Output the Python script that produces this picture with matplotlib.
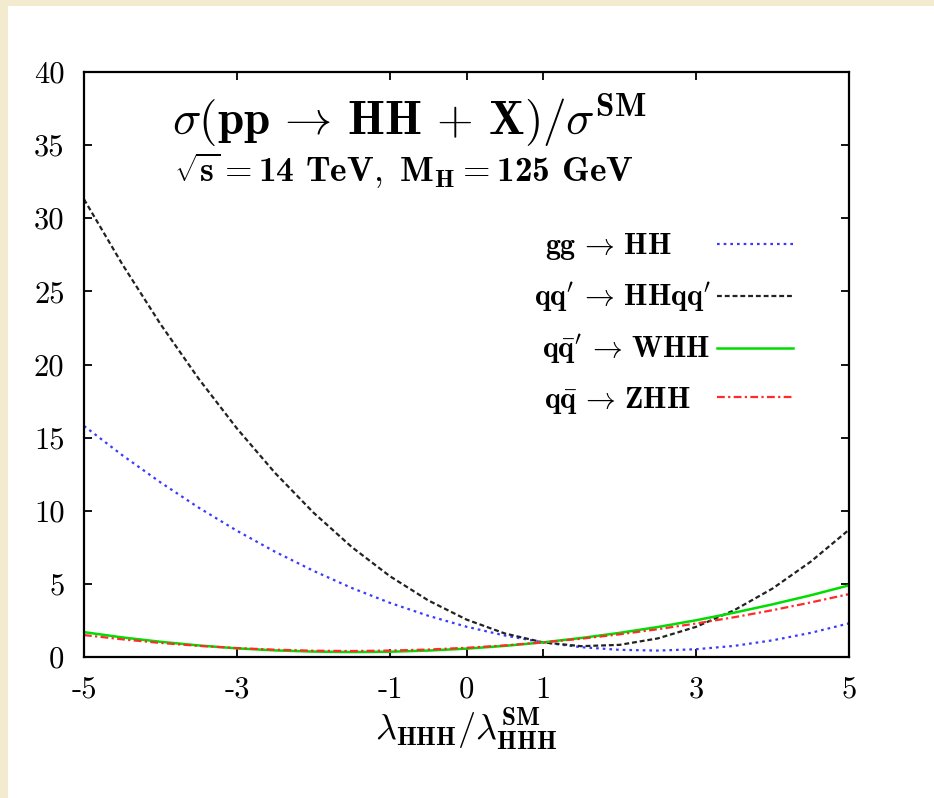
import matplotlib
matplotlib.use("Agg")
import matplotlib.pyplot as plt
from matplotlib.patches import Rectangle

plt.rcParams["mathtext.fontset"] = "cm"
plt.rcParams["axes.unicode_minus"] = False

# lambda_HHH / lambda_HHH^SM
lam = [-5.0, -4.5, -4.0, -3.5, -3.0, -2.5, -2.0, -1.5, -1.0, -0.5, 0.0,
       0.5, 1.0, 1.5, 2.0, 2.5, 3.0, 3.5, 4.0, 4.5, 5.0]

# sigma / sigma_SM
gg_hh = [15.80, 13.80, 11.94, 10.21, 8.63, 7.19, 5.89, 4.72, 3.70, 2.82, 2.07,
         1.47, 1.00, 0.67, 0.49, 0.44, 0.53, 0.76, 1.14, 1.65, 2.30]
qq_hhqq = [31.30, 26.86, 22.76, 19.02, 15.62, 12.57, 9.87, 7.52, 5.52, 3.87, 2.56,
           1.61, 1.00, 0.74, 0.83, 1.27, 2.06, 3.20, 4.68, 6.52, 8.70]
qq_whh = [1.70, 1.34, 1.04, 0.79, 0.59, 0.45, 0.37, 0.34, 0.36, 0.44, 0.57,
          0.76, 1.00, 1.30, 1.65, 2.05, 2.51, 3.03, 3.60, 4.22, 4.90]
qq_zhh = [1.50, 1.21, 0.96, 0.76, 0.61, 0.50, 0.43, 0.41, 0.44, 0.51, 0.63,
          0.79, 1.00, 1.25, 1.55, 1.90, 2.29, 2.72, 3.20, 3.73, 4.30]

x_ticks = [-5, -3, -1, 0, 1, 3, 5]
x_tick_labels = ["-5", "-3", "-1", "0", "1", "3", "5"]
y_ticks = [0, 5, 10, 15, 20, 25, 30, 35, 40]
y_tick_labels = ["0", "5", "10", "15", "20", "25", "30", "35", "40"]

# trailing spaces mimic the gnuplot key, where labels are not flush with the samples
labels = [
    r"$\mathbf{gg}\,\rightarrow\,\mathbf{HH}$" + "     ",
    r"$\mathbf{qq^{\prime}}\,\rightarrow\,\mathbf{HHqq^{\prime}}$",
    r"$\mathbf{q\bar{q}^{\prime}}\,\rightarrow\,\mathbf{WHH}$" + " ",
    r"$\mathbf{q\bar{q}}\,\rightarrow\,\mathbf{ZHH}$" + "   ",
]

fig = plt.figure(figsize=(9.34, 7.98), dpi=100)
fig.patch.set_facecolor("white")
beige = "#f3ebcf"
fig.patches.append(Rectangle((0, 0), 8 / 934, 1, transform=fig.transFigure,
                             facecolor=beige, edgecolor="none", zorder=-10))
fig.patches.append(Rectangle((0, 1 - 6 / 798), 1, 6 / 798, transform=fig.transFigure,
                             facecolor=beige, edgecolor="none", zorder=-10))

ax = fig.add_axes([84 / 934, 1 - 657 / 798, (849 - 84) / 934, (657 - 72) / 798])

ax.plot(lam, gg_hh, color="#3a3aff", lw=1.6, linestyle=(0, (1.2, 1.8)), label=labels[0])
ax.plot(lam, qq_hhqq, color="#222222", lw=1.6, linestyle=(0, (2.2, 1.3)), label=labels[1])
ax.plot(lam, qq_whh, color="#00dd00", lw=1.8, linestyle="-", label=labels[2])
ax.plot(lam, qq_zhh, color="#ff2a2a", lw=1.6, linestyle=(0, (3.5, 1.5, 1.0, 1.5)),
        label=labels[3])

ax.set_xlim(-5, 5)
ax.set_ylim(0, 40)
ax.set_xticks(x_ticks)
ax.set_xticklabels(x_tick_labels, fontfamily="cmr10", fontsize=22)
ax.set_yticks(y_ticks)
ax.set_yticklabels(y_tick_labels, fontfamily="cmr10", fontsize=22)
ax.tick_params(direction="in", length=6, width=1.3, top=True, right=True)
ax.tick_params(axis="y", pad=14)
ax.tick_params(axis="x", pad=14)
for s in ax.spines.values():
    s.set_linewidth(1.6)

ax.set_xlabel(r"$\lambda_{\mathbf{HHH}}/\lambda_{\mathbf{HHH}}^{\mathbf{SM}}$",
              fontsize=26, labelpad=2)

ax.text(0.115, 0.968,
        r"$\sigma(\mathbf{pp}\,\rightarrow\,\mathbf{HH}\,+\,\mathbf{X})/\sigma^{\mathbf{SM}}$",
        transform=ax.transAxes, fontsize=34, ha="left", va="top")
ax.text(0.118, 0.866,
        r"$\sqrt{\mathbf{s}}=$14 $\mathbf{TeV,\ M_H}=$125 $\mathbf{GeV}$",
        transform=ax.transAxes, fontsize=25.5, fontfamily="cmb10", ha="left", va="top")

ax.legend(loc="upper right", bbox_to_anchor=(0.927, 0.728), frameon=False,
          markerfirst=False, fontsize=21.5, handlelength=2.55, handletextpad=0.2,
          labelspacing=0.62, borderaxespad=0, borderpad=0)

fig.savefig("out.png", dpi=100, facecolor=fig.get_facecolor())
